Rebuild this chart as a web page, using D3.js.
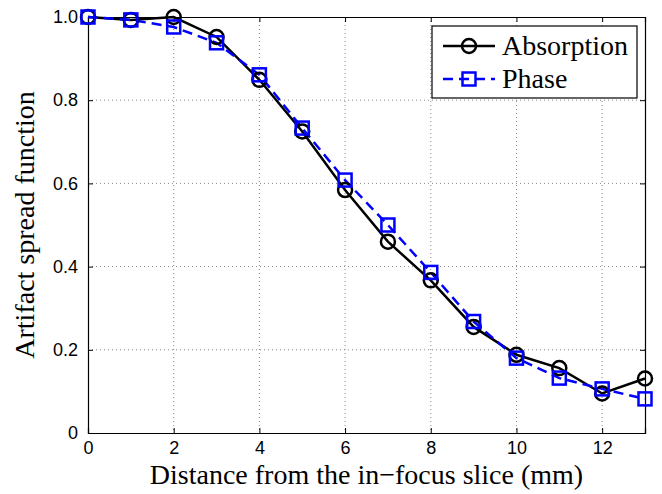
<!DOCTYPE html>
<html><head><meta charset="utf-8">
<script src="https://cdn.jsdelivr.net/npm/d3@7"></script>
<style>body{margin:0;background:#fff}svg{display:block}</style>
</head><body>
<svg id="c" width="662" height="494"></svg>
<script>
const distances = [0,1,2,3,4,5,6,7,8,9,10,11,12,13];
const absorption = [1.0,0.993,1.0,0.952,0.849,0.725,0.584,0.46,0.367,0.255,0.188,0.156,0.095,0.131];
const phase = [1.0,0.993,0.976,0.938,0.861,0.733,0.608,0.5,0.386,0.268,0.18,0.132,0.106,0.082];
const xTicks = [0,2,4,6,8,10,12];
const yTicks = [0,0.2,0.4,0.6,0.8,1.0];
const yTickLabels = ["0","0.2","0.4","0.6","0.8","1.0"];
const seriesNames = ["Absorption","Phase"];

const svg = d3.select("#c");
const L=88,R=645,T=17,B=433;
const x = d3.scaleLinear().domain([0,13]).range([L,R]);
const y = d3.scaleLinear().domain([0,1]).range([B,T]);

// grid
const g = svg.append("g");
g.selectAll(".gx").data(xTicks.filter(d=>d>0)).join("line")
 .attr("x1",d=>x(d)).attr("x2",d=>x(d)).attr("y1",T).attr("y2",B)
 .attr("stroke","#888").attr("stroke-width",1).attr("stroke-dasharray","1,3");
g.selectAll(".gy").data(yTicks.filter(d=>d>0&&d<1)).join("line")
 .attr("x1",L).attr("x2",R).attr("y1",d=>y(d)).attr("y2",d=>y(d))
 .attr("stroke","#888").attr("stroke-width",1).attr("stroke-dasharray","1,3");

// axes
const ax = svg.append("g").attr("transform",`translate(0,${B})`)
 .call(d3.axisBottom(x).tickValues(xTicks).tickSize(-5).tickPadding(6).tickFormat(d3.format("d")));
const ay = svg.append("g").attr("transform",`translate(${L},0)`)
 .call(d3.axisLeft(y).tickValues(yTicks).tickSize(-5).tickPadding(10).tickFormat((d,i)=>yTickLabels[i]));
const axT = svg.append("g").attr("transform",`translate(0,${T})`)
 .call(d3.axisTop(x).tickValues(xTicks).tickSize(-5).tickFormat(""));
const ayR = svg.append("g").attr("transform",`translate(${R},0)`)
 .call(d3.axisRight(y).tickValues(yTicks).tickSize(-5).tickFormat(""));
[ax,ay,axT,ayR].forEach(a=>{
  a.select(".domain").attr("stroke","#000").attr("stroke-width",1.2);
  a.selectAll(".tick line").attr("stroke","#000").attr("stroke-width",1);
  a.selectAll("text").attr("font-family","Liberation Sans, Arial, sans-serif").attr("font-size",18).attr("fill","#000");
});
ax.selectAll("text").attr("dy","0.85em");

// lines
const line = d3.line().x((d,i)=>x(distances[i])).y(d=>y(d));
svg.append("path").datum(absorption).attr("d",line).attr("fill","none")
 .attr("stroke","#000").attr("stroke-width",2.5);
svg.append("path").datum(phase).attr("d",line).attr("fill","none")
 .attr("stroke","#0000ff").attr("stroke-width",2.5).attr("stroke-dasharray","10,6");

svg.append("g").selectAll("circle").data(absorption).join("circle")
 .attr("cx",(d,i)=>x(distances[i])).attr("cy",d=>y(d)).attr("r",7)
 .attr("fill","none").attr("stroke","#000").attr("stroke-width",2.5);
svg.append("g").selectAll("rect").data(phase).join("rect")
 .attr("x",(d,i)=>x(distances[i])-6.5).attr("y",d=>y(d)-6.5).attr("width",13).attr("height",13)
 .attr("fill","none").attr("stroke","#0000ff").attr("stroke-width",2.5);

// labels
svg.append("text").attr("x",(L+R)/2).attr("y",484).attr("text-anchor","middle")
 .attr("font-family","Liberation Serif, Times New Roman, serif").attr("font-size",28)
 .text("Distance from the in\u2212focus slice (mm)");
svg.append("text").attr("transform",`translate(34,${(T+B)/2}) rotate(-90)`).attr("text-anchor","middle")
 .attr("font-family","Liberation Serif, Times New Roman, serif").attr("font-size",28)
 .text("Artifact spread function");

// legend
const lg = svg.append("g");
lg.append("rect").attr("x",432).attr("y",26).attr("width",205).attr("height",72)
 .attr("fill","#fff").attr("stroke","#000").attr("stroke-width",1.2);
seriesNames.forEach((n,i)=>{
  const yy = 46 + i*33;
  if(i===0){
    lg.append("line").attr("x1",443).attr("x2",495).attr("y1",yy).attr("y2",yy).attr("stroke","#000").attr("stroke-width",2.5);
    lg.append("circle").attr("cx",469).attr("cy",yy).attr("r",7).attr("fill","none").attr("stroke","#000").attr("stroke-width",2.5);
  } else {
    lg.append("line").attr("x1",443).attr("x2",495).attr("y1",yy).attr("y2",yy).attr("stroke","#0000ff").attr("stroke-width",2.5).attr("stroke-dasharray","10,6");
    lg.append("rect").attr("x",462.5).attr("y",yy-6.5).attr("width",13).attr("height",13).attr("fill","none").attr("stroke","#0000ff").attr("stroke-width",2.5);
  }
  lg.append("text").attr("x",502).attr("y",yy+9).attr("font-family","Liberation Serif, Times New Roman, serif")
   .attr("font-size",28).text(n);
});
</script>
</body></html>
